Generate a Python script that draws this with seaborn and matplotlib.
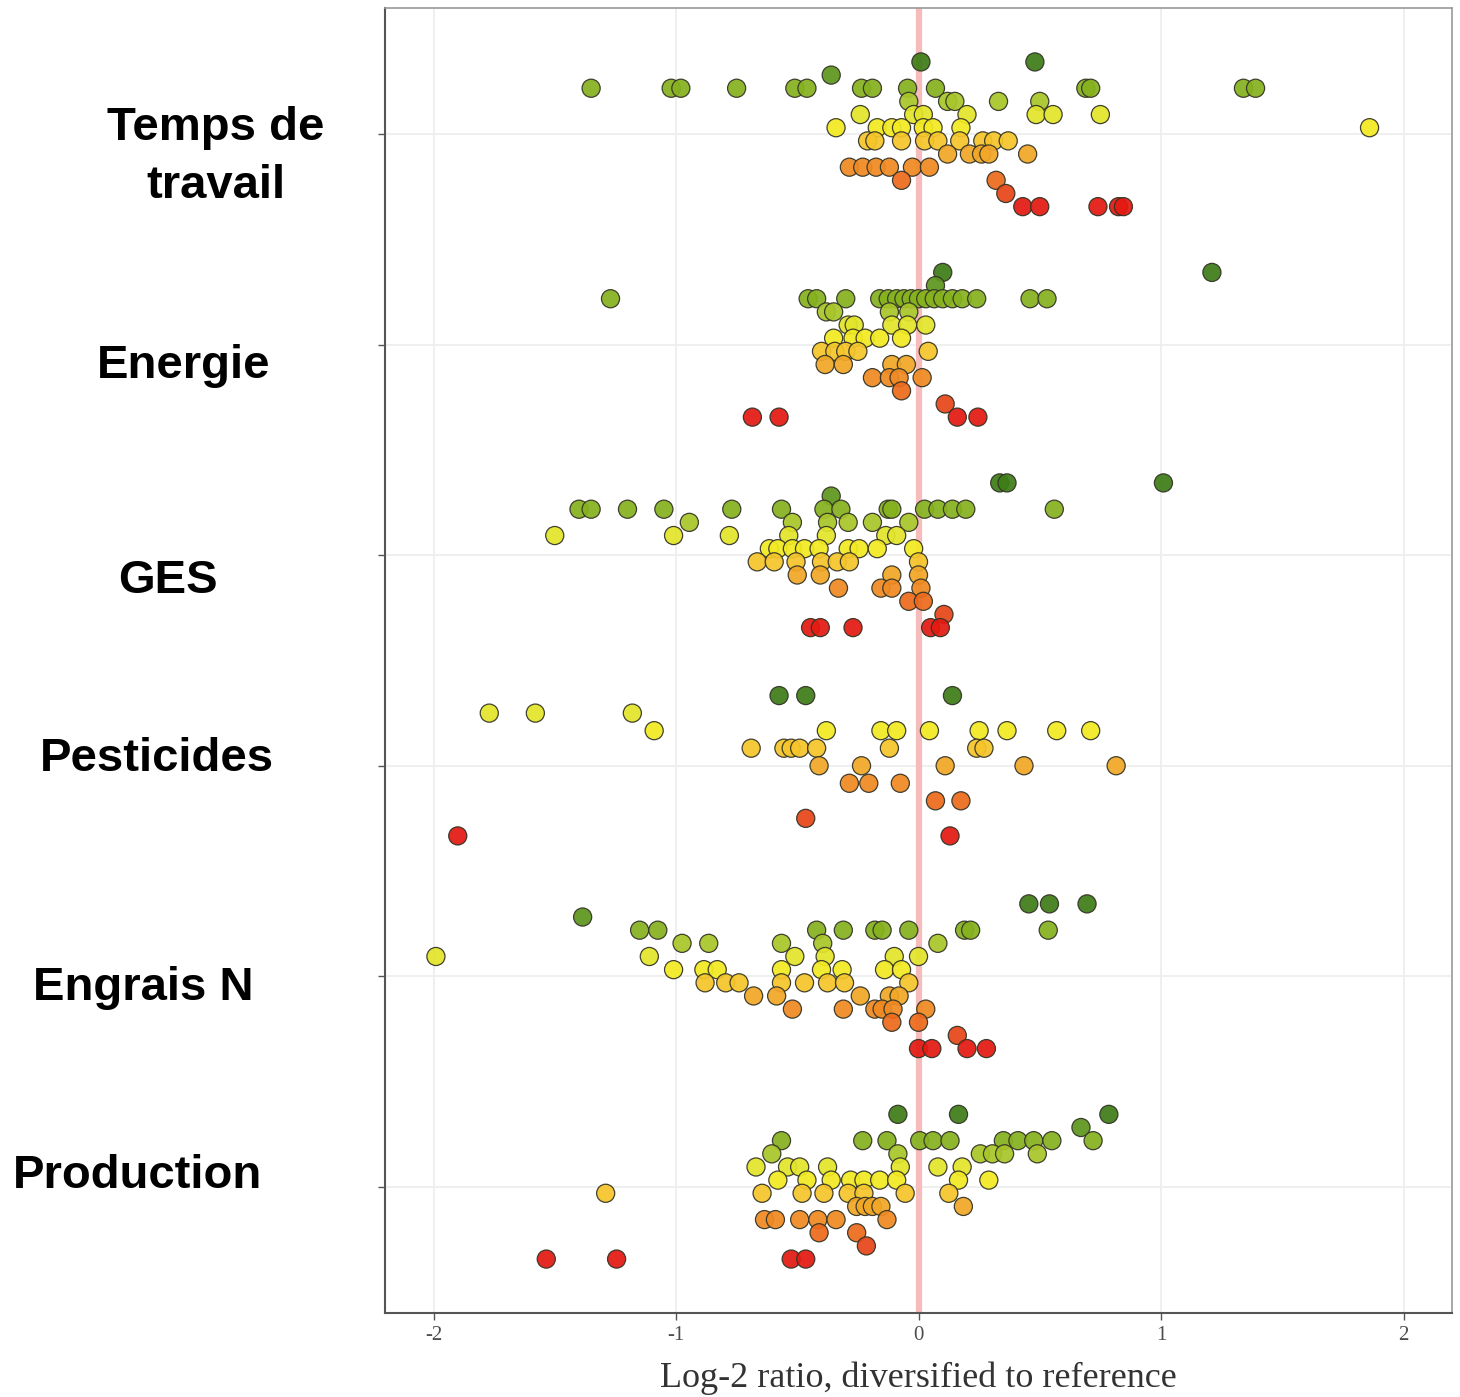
import numpy as np
import pandas as pd
import matplotlib
matplotlib.use("Agg")
import matplotlib.pyplot as plt
import seaborn as sns

# ---------------- data ----------------
categories = ["Temps de\ntravail", "Energie", "GES", "Pesticides", "Engrais N", "Production"]

level_colors = ["#3e7d17", "#5e961e", "#86b21f", "#a8c62a", "#e2e52a", "#f3ea22",
                "#f5c52a", "#f2a726", "#f08a22", "#ec6a1c", "#e8461a", "#e31a12"]

temps_rows = [
    [0.01, 0.48],
    [-0.36],
    [-1.35, -1.02, -0.98, -0.75, -0.51, -0.46, -0.235, -0.19, -0.045, 0.07, 0.69, 0.71, 1.34, 1.39],
    [-0.04, 0.12, 0.15, 0.33, 0.50],
    [-0.24, -0.02, 0.02, 0.20, 0.485, 0.555, 0.75],
    [-0.34, -0.17, -0.11, -0.07, 0.02, 0.06, 0.175, 1.86],
    [-0.21, -0.18, -0.07, 0.025, 0.08, 0.17, 0.265, 0.31, 0.37],
    [0.12, 0.21, 0.26, 0.29, 0.45],
    [-0.285, -0.23, -0.175, -0.12, -0.025, 0.045],
    [-0.07, 0.32],
    [0.36],
    [0.43, 0.50, 0.74, 0.825, 0.845],
]
energie_rows = [
    [0.10, 1.21],
    [0.07],
    [-1.27, -0.455, -0.42, -0.30, -0.16, -0.125, -0.09, -0.06, -0.03, 0.0, 0.03, 0.065,
     0.10, 0.14, 0.18, 0.24, 0.46, 0.53],
    [-0.38, -0.35, -0.12, -0.04],
    [-0.29, -0.265, -0.11, -0.045, 0.03],
    [-0.35, -0.27, -0.22, -0.16, -0.07],
    [-0.40, -0.345, -0.30, -0.25, 0.04],
    [-0.385, -0.31, -0.11, -0.05],
    [-0.19, -0.12, -0.08, 0.015],
    [-0.07],
    [0.11],
    [-0.685, -0.575, 0.16, 0.245],
]
ges_rows = [
    [0.335, 0.365, 1.01],
    [-0.36],
    [-1.40, -1.35, -1.20, -1.05, -0.77, -0.565, -0.39, -0.32, -0.125, -0.11, 0.025, 0.08,
     0.14, 0.195, 0.56],
    [-0.945, -0.52, -0.375, -0.29, -0.19, -0.04],
    [-1.50, -1.01, -0.78, -0.535, -0.38, -0.135, -0.09],
    [-0.615, -0.58, -0.52, -0.47, -0.41, -0.29, -0.245, -0.17, -0.02],
    [-0.665, -0.595, -0.505, -0.40, -0.335, -0.285, 0.0],
    [-0.50, -0.405, -0.11, 0.0],
    [-0.33, -0.155, -0.11, 0.01],
    [-0.04, 0.02],
    [0.105],
    [-0.445, -0.405, -0.27, 0.05, 0.09],
]
pesticides_rows = [
    [-0.575, -0.465, 0.14],
    [-1.77, -1.58, -1.18],
    [-1.09, -0.38, -0.155, -0.09, 0.045, 0.25, 0.365, 0.57, 0.71],
    [-0.69, -0.555, -0.525, -0.49, -0.42, -0.12, 0.24, 0.27],
    [-0.41, -0.235, 0.11, 0.435, 0.815],
    [-0.285, -0.205, -0.075],
    [0.07, 0.175],
    [-0.465],
    [-1.90, 0.13],
]
engrais_rows = [
    [0.455, 0.54, 0.695],
    [-1.385],
    [-1.15, -1.075, -0.42, -0.31, -0.18, -0.15, -0.04, 0.19, 0.215, 0.535],
    [-0.975, -0.865, -0.565, -0.395, 0.08],
    [-1.99, -1.11, -0.51, -0.385, -0.10, 0.0],
    [-1.01, -0.885, -0.83, -0.565, -0.40, -0.315, -0.14, -0.07],
    [-0.88, -0.795, -0.74, -0.565, -0.47, -0.375, -0.305, -0.04],
    [-0.68, -0.585, -0.24, -0.12, -0.08],
    [-0.52, -0.31, -0.18, -0.15, -0.105, 0.03],
    [-0.11, 0.0],
    [0.16],
    [0.0, 0.055, 0.20, 0.28],
]
production_rows = [
    [-0.085, 0.165, 0.785],
    [0.67],
    [-0.565, -0.23, -0.13, 0.005, 0.06, 0.13, 0.35, 0.41, 0.475, 0.55, 0.72],
    [-0.605, -0.085, 0.255, 0.305, 0.355, 0.49],
    [-0.67, -0.54, -0.49, -0.375, -0.075, 0.08, 0.18],
    [-0.58, -0.46, -0.36, -0.28, -0.225, -0.16, -0.09, 0.165, 0.29],
    [-1.29, -0.645, -0.48, -0.39, -0.29, -0.225, -0.055, 0.125],
    [-0.255, -0.22, -0.19, -0.155, 0.185],
    [-0.635, -0.59, -0.49, -0.415, -0.34, -0.13],
    [-0.41, -0.255],
    [-0.215],
    [-1.535, -1.245, -0.525, -0.465],
]

category_rows = [temps_rows, energie_rows, ges_rows, pesticides_rows, engrais_rows, production_rows]
category_levels = [list(range(12)), list(range(12)), list(range(12)),
                   [0, 4, 5, 6, 7, 8, 9, 10, 11], list(range(12)), list(range(12))]

x_ticks = [-2, -1, 0, 1, 2]
x_tick_labels = ["-2", "-1", "0", "1", "2"]
x_label = "Log-2 ratio, diversified to reference"

# ---------------- build table ----------------
dodge_width = 0.75
records = []
for ci, (rows, levels) in enumerate(zip(category_rows, category_levels)):
    n = len(rows)
    for ri, (vals, lev) in enumerate(zip(rows, levels)):
        offset = (ri - (n - 1) / 2) * dodge_width / n
        for v in vals:
            records.append(dict(category=categories[ci], value=v, level=lev, ypos=ci + offset))
df = pd.DataFrame(records)

# ---------------- plot ----------------
sns.set_style("white")
W, H = 1460, 1397
fig = plt.figure(figsize=(W / 100, H / 100), dpi=100)
ax = fig.add_axes([385 / W, 1 - 1313 / H, (1452 - 385) / W, (1313 - 8) / H])

ax.axvline(0, color="#f6bcbc", lw=4.5, zorder=2)

sns.scatterplot(data=df, x="value", y="ypos", hue="level",
                palette={i: c for i, c in enumerate(level_colors)},
                s=170, edgecolor=(0.2, 0.2, 0.15, 0.6), linewidth=0.9, alpha=0.93,
                legend=False, ax=ax, zorder=3)

ax.set_xlim(-2.2, 2.2)
ax.set_ylim(len(categories) - 1 + 0.6, -0.6)
ax.set_xticks(x_ticks)
ax.set_xticklabels(x_tick_labels, family=["Liberation Serif", "DejaVu Serif"])
ax.set_yticks(range(len(categories)))
ax.set_yticklabels([])
ax.set_xlabel("")
ax.set_ylabel("")
ax.grid(True, color="#eeeeee", lw=1.3)
ax.set_axisbelow(True)
ax.tick_params(axis="x", length=5, width=1, color="#555555", labelsize=15,
               labelcolor="#4d4d4d", pad=4, bottom=True)
ax.tick_params(axis="y", length=5, width=1, color="#555555", left=True)

for side in ["left", "bottom"]:
    ax.spines[side].set_color("#555555")
    ax.spines[side].set_linewidth(1.5)
for side in ["top", "right"]:
    ax.spines[side].set_color("#9a9a9a")
    ax.spines[side].set_linewidth(1.2)

label_font = dict(family=["Liberation Sans", "DejaVu Sans"], fontsize=34,
                  fontweight="bold", color="black")
# category labels placed in pixel positions (x, baseline y, alignment)
label_places = [(216, 140, "center"), (97, 378, "left"), (118, 593, "left"),
                (40, 771, "left"), (33, 1000, "left"), (13, 1188, "left")]
for name, (px, py, ha) in zip(categories, label_places):
    if "\n" in name:
        lines = name.split("\n")
        for k, line in enumerate(lines):
            fig.text(px / W, 1 - (py + 58 * k) / H, line, ha=ha, va="baseline", **label_font)
    else:
        fig.text(px / W, 1 - py / H, name, ha=ha, va="baseline", **label_font)

fig.text(918 / W, 1 - 1387 / H, x_label, ha="center", va="baseline",
         family=["Liberation Serif", "DejaVu Serif"], fontsize=26, color="#333333")

fig.savefig("out.png", dpi=100)
